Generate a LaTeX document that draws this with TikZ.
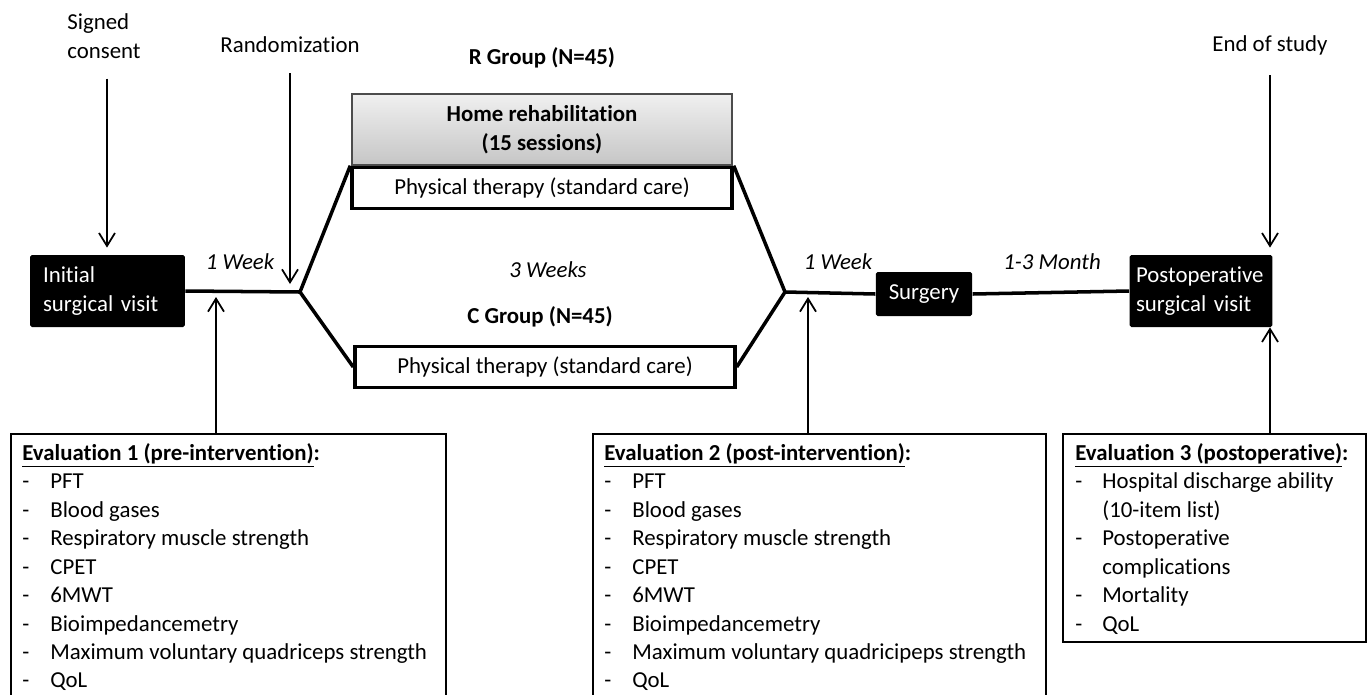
\documentclass[tikz,border=0pt]{standalone}
\usepackage{fontspec}
\setmainfont{Carlito}[Ligatures=NoCommon]
\usetikzlibrary{arrows.meta, positioning}

\begin{document}
\begin{tikzpicture}[
    x=0.02cm, y=-0.02cm,
    font=\fontsize{13}{16.2}\selectfont,
    visit/.style={rectangle, rounded corners=1pt, fill=black, text=white, align=left, minimum height=1.44cm, inner xsep=0.26cm},
    rehab/.style={rectangle, minimum width=7.6cm, minimum height=1.42cm, align=center, font=\fontsize{13}{16.2}\selectfont\bfseries, draw=gray!60!black, line width=0.8pt, top color=gray!12, bottom color=gray!45},
    therapy/.style={rectangle, minimum width=7.6cm, minimum height=0.82cm, draw=black, fill=white, line width=2pt},
    evalbox/.style={rectangle, draw=black, line width=1.1pt, anchor=north west},
    evaltext/.style={anchor=north west, inner sep=0pt, align=left},
    period/.style={font=\fontsize{13}{16.2}\selectfont\itshape},
    flow/.style={line width=2pt},
    arrow/.style={-{Straight Barb[length=0.26cm, width=0.32cm, line width=1pt]}, line width=1pt}
]
\useasboundingbox (0,0) rectangle (1370,694);

% Timeline boxes
\node[visit, text width=2.58cm] (init) at (107.5,291) {Initial\\surgical visit};
\node[visit, minimum width=1.76cm, minimum height=0.88cm, align=center] (surg) at (924,294) {Surgery};
\node[visit, text width=2.6cm, inner xsep=0.13cm] (postop) at (1201,291) {Postoperative\\surgical visit};

% Groups
\node[font=\fontsize{13}{16.2}\selectfont\bfseries] (rgrp) at (542,58) {R Group (N=45)};
\node[rehab] (home) at (542,129.5) {Home rehabilitation\\(15 sessions)};
\node[therapy, below=0pt of home] (ptr) {Physical therapy (standard care)};
\node[period] (weeks) at (548,270) {3 Weeks};
\node[font=\fontsize{13}{16.2}\selectfont\bfseries] (cgrp) at (540,317) {C Group (N=45)};
\node[therapy] (ptc) at (545,367) {Physical therapy (standard care)};

% Periods
\node[period] (wk1) at (240,262) {1 Week};
\node[period] (wk2) at (838,262) {1 Week};
\node[period] (month) at (1052,262) {1-3 Month};

% Milestones
\node[align=left] (consent) at (104,36) {Signed\\consent};
\node (rand) at (290,45) {Randomization};
\node (endst) at (1270,45) {End of study};

% Fork points
\coordinate (fork1) at (300,292);
\coordinate (fork2) at (785,292);
\coordinate (rnd) at (290,284);
\coordinate (e1) at (216,297);
\coordinate (e2) at (808,297);

% Flow lines
\draw[flow] (init.east) -- (fork1);
\draw[flow] (fork1) -- (ptr.north west);
\draw[flow] (fork1) -- (ptc.west);
\draw[flow] (ptr.north east) -- (fork2);
\draw[flow] (ptc.east) -- (fork2);
\draw[flow] (fork2) -- (surg.west);
\draw[flow] (surg.east) -- (postop.west);

% Milestone arrows
\draw[arrow, shorten <=8pt, shorten >=4pt] ([xshift=1.7pt]consent.south) -- ([xshift=1.7pt]consent.south |- init.north);
\draw[arrow, shorten <=8pt] (rand.south) -- (rnd);
\draw[arrow, shorten <=8pt, shorten >=4pt] (endst.south) -- (endst.south |- postop.north);

% Evaluations
\node[evalbox, minimum width=8.7cm, minimum height=5.6cm] (ev1) at (10,433) {};
\node[evaltext] (ev1txt) at (22,440) {%
  \begin{tabular}{@{}p{0.56cm}@{}l@{}}
  \multicolumn{2}{@{}l@{}}{\underline{\textbf{Evaluation 1 (pre-intervention)}}\textbf{:}}\\
  - & PFT\\
  - & Blood gases\\
  - & Respiratory muscle strength\\
  - & CPET\\
  - & 6MWT\\
  - & Bioimpedancemetry\\
  - & Maximum voluntary quadriceps strength\\
  - & QoL
  \end{tabular}};

\node[evalbox, minimum width=9.06cm, minimum height=5.6cm] (ev2) at (592,433) {};
\node[evaltext] (ev2txt) at (604,440) {%
  \begin{tabular}{@{}p{0.56cm}@{}l@{}}
  \multicolumn{2}{@{}l@{}}{\underline{\textbf{Evaluation 2 (post-intervention)}}\textbf{:}}\\
  - & PFT\\
  - & Blood gases\\
  - & Respiratory muscle strength\\
  - & CPET\\
  - & 6MWT\\
  - & Bioimpedancemetry\\
  - & Maximum voluntary quadricipeps strength\\
  - & QoL
  \end{tabular}};

\node[evalbox, minimum width=6.06cm, minimum height=4.16cm] (ev3) at (1062,433) {};
\node[evaltext] (ev3txt) at (1075,440) {%
  \begin{tabular}{@{}p{0.54cm}@{}l@{}}
  \multicolumn{2}{@{}l@{}}{\underline{\textbf{Evaluation 3 (postoperative)}}\textbf{:}}\\
  - & Hospital discharge ability\\
    & (10-item list)\\
  - & Postoperative\\
    & complications\\
  - & Mortality\\
  - & QoL
  \end{tabular}};

% Evaluation arrows
\draw[arrow] (e1 |- ev1.north) -- (e1);
\draw[arrow] (e2 |- ev2.north) -- (e2);
\draw[arrow] (endst.south |- ev3.north) -- (endst.south |- postop.south);

\end{tikzpicture}
\end{document}
